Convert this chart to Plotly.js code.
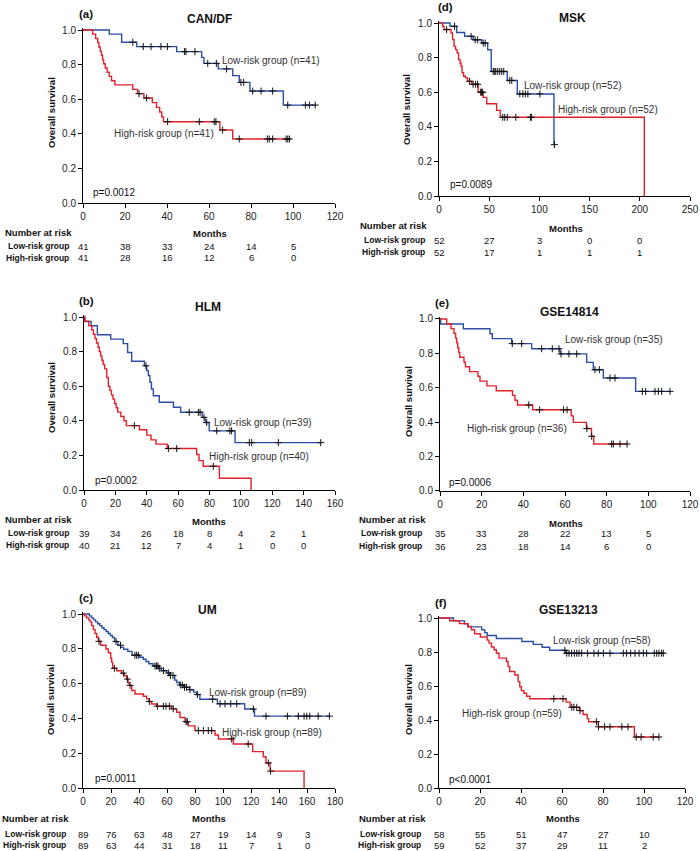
<!DOCTYPE html>
<html><head><meta charset="utf-8">
<script src="https://cdn.plot.ly/plotly-3.0.1.min.js"></script>
<style>html,body{margin:0;padding:0;background:#fff}#chart{width:700px;height:851px}</style>
</head><body><div id="chart"></div>
<script>
// ---------- (a) CAN/DF ----------
const aLowT = [0, 12.5, 18.4, 25.6, 44.6, 56.5, 57.6, 64.4, 71.3, 74.4, 79.5, 95.4];
const aLowS = [1, 0.976, 0.929, 0.904, 0.875, 0.842, 0.807, 0.775, 0.736, 0.697, 0.647, 0.566];
const aLowEnd = 110.6;
const aLowCens = [23.7, 28.7, 32.4, 37.1, 40.2, 48.3, 49.0, 53.3, 59.4, 63.5, 68.4, 75.2, 76.5, 80.8, 84.8, 90.3, 97.5, 105.9, 107.8, 110.6];
const aHighT = [0, 4.6, 6.0, 7.0, 7.6, 8.2, 8.8, 9.3, 9.8, 10.6, 11.5, 12.5, 13.6, 15.2, 23.7, 26.0, 29.0, 33.0, 35.0, 36.5, 37.5, 38.3, 65.2, 71.3];
const aHighS = [1, 0.976, 0.951, 0.927, 0.902, 0.878, 0.854, 0.829, 0.805, 0.780, 0.756, 0.732, 0.707, 0.683, 0.657, 0.632, 0.607, 0.580, 0.553, 0.526, 0.498, 0.470, 0.422, 0.370];
const aHighEnd = 98.3;
const aHighCens = [26.7, 30.3, 40.3, 55.4, 62.5, 63.3, 66.5, 74.4, 87.8, 88.7, 90.3, 96.7, 97.5, 98.3];
const aRiskT = [0, 20, 40, 60, 80, 100];
const aRiskLow = [41, 38, 33, 24, 14, 5];
const aRiskHigh = [41, 28, 16, 12, 6, 0];

// ---------- (d) MSK ----------
const dLowT = [0, 11, 17.6, 25.5, 34, 42.5, 48.5, 52, 68, 78, 114.5];
const dLowS = [1, 0.981, 0.945, 0.923, 0.903, 0.884, 0.845, 0.72, 0.668, 0.59, 0.297];
const dLowEnd = 115;
const dLowCens = [15.5, 32, 36, 38.5, 44, 46, 54, 55, 56.5, 58.5, 60.5, 62.5, 64.5, 70.5, 72.5, 80.5, 83.5, 86, 88.5, 100.5, 115];
const dHighT = [0, 3.5, 5, 12, 13.5, 15, 16.5, 18, 19.5, 21, 22, 23, 24.5, 26.5, 28.5, 32.5, 39, 44, 47.5, 57.4, 61, 204.5];
const dHighS = [1, 0.981, 0.962, 0.942, 0.904, 0.865, 0.846, 0.827, 0.788, 0.769, 0.75, 0.712, 0.692, 0.683, 0.663, 0.646, 0.60, 0.57, 0.533, 0.495, 0.455, 0];
const dHighEnd = 204.5;
const dHighCens = [7.6, 30.5, 34, 36.5, 38.5, 41.5, 42.5, 43.5, 63.5, 65.5, 68, 76.5, 91, 92];
const dRiskT = [0, 50, 100, 150, 200];
const dRiskLow = [52, 27, 3, 0, 0];
const dRiskHigh = [52, 17, 1, 1, 1];

// ---------- (b) HLM ----------
const bLowT = [0, 0.5, 4.5, 8.5, 17, 25, 27.8, 30.4, 38.5, 40, 41, 42, 43, 44.2, 48, 57, 61.6, 75.3, 77.2, 79.8, 96.3];
const bLowS = [1, 0.974, 0.949, 0.897, 0.872, 0.846, 0.795, 0.744, 0.718, 0.69, 0.662, 0.623, 0.584, 0.545, 0.507, 0.478, 0.449, 0.42, 0.39, 0.342, 0.274];
const bLowEnd = 150.9;
const bLowCens = [39.5, 67.1, 72.9, 74, 76.5, 78.2, 84.6, 93, 94.1, 105.4, 106.9, 123.9, 150.9];
const bHighT = [0, 0.5, 3, 5, 6, 7, 8, 9, 9.8, 10.6, 11.4, 12.2, 13.2, 14.5, 15.5, 16.5, 17.5, 18.5, 19.5, 20.5, 21.5, 23.5, 25.5, 27, 28.5, 35.3, 40, 42.7, 45.9, 53, 71.8, 73.3, 76, 86.3, 106.5];
const bHighS = [1, 0.975, 0.95, 0.925, 0.90, 0.875, 0.85, 0.825, 0.80, 0.775, 0.75, 0.725, 0.70, 0.65, 0.60, 0.575, 0.55, 0.525, 0.50, 0.475, 0.45, 0.425, 0.40, 0.372, 0.372, 0.348, 0.317, 0.29, 0.265, 0.24, 0.205, 0.17, 0.137, 0.068, 0];
const bHighEnd = 106.5;
const bHighCens = [32.1, 53.8, 59.1, 82.4];
const bRiskT = [0, 20, 40, 60, 80, 100, 120, 140];
const bRiskLow = [39, 34, 26, 18, 8, 4, 2, 1];
const bRiskHigh = [40, 21, 12, 7, 4, 1, 0, 0];

// ---------- (e) GSE14814 ----------
const eLowT = [0, 0.3, 11.2, 24, 25.1, 34.4, 44, 57.6, 70.4, 73.6, 78.4, 93.9];
const eLowS = [1, 0.971, 0.943, 0.914, 0.886, 0.857, 0.827, 0.797, 0.748, 0.705, 0.657, 0.579];
const eLowEnd = 110.4;
const eLowCens = [34.7, 39.2, 48.8, 53.9, 57.1, 58.1, 61.9, 65.6, 74.4, 76.5, 81.6, 84, 97.1, 98.7, 103.2, 104.8, 106.4, 110.4];
const eHighT = [0, 3.2, 5.3, 6.7, 7.5, 8.0, 8.5, 9.0, 9.5, 11.5, 12.2, 14.2, 18.2, 19.2, 22.5, 27, 34.8, 36, 37.2, 44.5, 63, 64, 70.3, 72.7, 73.8];
const eHighS = [1, 0.972, 0.944, 0.917, 0.889, 0.861, 0.833, 0.806, 0.778, 0.75, 0.722, 0.694, 0.667, 0.639, 0.611, 0.583, 0.556, 0.528, 0.50, 0.472, 0.437, 0.399, 0.363, 0.318, 0.273];
const eHighEnd = 89.8;
const eHighCens = [42.6, 47.8, 59.3, 61, 70.5, 72.8, 82.4, 83.2, 86.4, 89.8];
const eRiskT = [0, 20, 40, 60, 80, 100];
const eRiskLow = [35, 33, 28, 22, 13, 5];
const eRiskHigh = [36, 23, 18, 14, 6, 0];

// ---------- (c) UM ----------
const cLowT = [0, 4.5, 6, 7.5, 9, 10.5, 12, 13.5, 15, 16.5, 18, 19.5, 21, 22.5, 25, 27, 29, 32, 35, 40.5, 43, 45, 47, 50, 54, 56, 60, 62, 65.5, 67, 69, 72, 76, 79, 81, 83.5, 96, 115.5, 122.5];
const cLowS = [1, 0.989, 0.978, 0.966, 0.955, 0.944, 0.933, 0.921, 0.91, 0.899, 0.888, 0.876, 0.865, 0.842, 0.82, 0.808, 0.797, 0.785, 0.763, 0.751, 0.74, 0.727, 0.714, 0.701, 0.688, 0.674, 0.661, 0.647, 0.62, 0.606, 0.592, 0.579, 0.565, 0.551, 0.537, 0.51, 0.484, 0.454, 0.413];
const cLowEnd = 176;
const cLowCens = [23.6, 26.8, 37.1, 38.3, 39.5, 51.4, 52.5, 53.5, 54.5, 57.5, 61.2, 62.5, 64.3, 69.5, 71, 72.5, 74, 76.4, 81.7, 92.6, 97.9, 101.4, 105.5, 109.8, 121.7, 130.7, 146, 153.8, 157.9, 159.8, 162, 168, 176];
const cHighT = [0, 1, 2.6, 4, 5, 6.2, 7.4, 8.6, 9.8, 11, 12.6, 16.4, 18.1, 19.8, 20.5, 21.2, 24, 27.6, 29.5, 31.2, 32.2, 33.1, 34.8, 37.1, 43.1, 45.5, 47.1, 49, 52.6, 63.3, 66.9, 69.3, 72.9, 75.2, 80, 94.3, 96.7, 107.4, 121.2, 128.8, 130.7, 133.6, 157.9];
const cHighS = [1, 0.989, 0.978, 0.966, 0.955, 0.933, 0.91, 0.888, 0.866, 0.843, 0.82, 0.799, 0.777, 0.744, 0.722, 0.688, 0.674, 0.66, 0.645, 0.626, 0.605, 0.59, 0.56, 0.54, 0.527, 0.512, 0.497, 0.483, 0.47, 0.455, 0.435, 0.405, 0.381, 0.357, 0.33, 0.305, 0.282, 0.253, 0.209, 0.18, 0.144, 0.097, 0];
const cHighEnd = 157.9;
const cHighCens = [11.4, 22.4, 28.8, 31.7, 33.6, 47.4, 53.1, 57.4, 59.3, 61.7, 64.5, 73.6, 74.5, 82.4, 86, 89.5, 91.9, 106.2, 118, 132.4, 134];
const cRiskT = [0, 20, 40, 60, 80, 100, 120, 140, 160];
const cRiskLow = [89, 76, 63, 48, 27, 19, 14, 9, 3];
const cRiskHigh = [89, 63, 44, 31, 18, 11, 7, 1, 0];

// ---------- (f) GSE13213 ----------
const fLowT = [0, 7, 12.4, 14, 20.8, 22.3, 23.5, 28, 40.4, 46, 50.3, 54, 61.7];
const fLowS = [1, 0.983, 0.966, 0.948, 0.931, 0.914, 0.897, 0.879, 0.862, 0.845, 0.828, 0.81, 0.793];
const fLowEnd = 109.4;
const fLowCens = [61.4, 62.3, 63.4, 64.7, 66, 67.2, 68.3, 69.6, 72.5, 75.6, 77.7, 80.2, 83.4, 89.9, 91.5, 93.5, 95.6, 97.6, 99.7, 101.3, 105, 106.2, 107.3, 108.6, 109.4];
const fHighT = [0, 5.2, 10, 14.2, 15.8, 17.4, 20.2, 23.5, 24.4, 25.6, 26.9, 28, 29.3, 32.9, 33.7, 34.5, 37, 38.6, 39.4, 40.2, 41.4, 42.7, 44.3, 62, 64, 68.5, 70.3, 72.3, 73, 77.7, 95.3];
const fHighS = [1, 0.984, 0.967, 0.95, 0.931, 0.907, 0.888, 0.87, 0.852, 0.829, 0.813, 0.793, 0.764, 0.744, 0.715, 0.685, 0.665, 0.626, 0.596, 0.573, 0.557, 0.54, 0.525, 0.505, 0.475, 0.455, 0.432, 0.408, 0.39, 0.36, 0.30];
const fHighEnd = 107.3;
const fHighCens = [56, 60.5, 64.8, 65.8, 67.2, 68.8, 76.8, 77.8, 80.8, 83.4, 89.2, 92.2, 96.2, 98.6, 104.5, 107.3];
const fRiskT = [0, 20, 40, 60, 80, 100];
const fRiskLow = [58, 55, 51, 47, 27, 10];
const fRiskHigh = [59, 52, 37, 29, 11, 2];

// ---------- layout / drawing ----------
const W = 700, H = 851;
const BLUE = '#2c4ea6', RED = '#e2222b';
const FONT = 'Liberation Sans, Arial, sans-serif';

const panels = [
  {sfx:'', letter:'(a)', title:'CAN/DF', x0:83, x1:335, yTop:30, yBot:203, xmax:120, dtick:20,
   low:[aLowT,aLowS,aLowEnd,aLowCens], high:[aHighT,aHighS,aHighEnd,aHighCens],
   risk:[aRiskT,aRiskLow,aRiskHigh], nLow:41, nHigh:41, p:'p=0.0012',
   letterPos:[77,14], titlePos:[209,19], ylabPos:[51,113], lowPos:[220,61], highPos:[112,134], pPos:[91,193],
   monthsPos:[210,234], narPos:[3,232], rowLow:246, rowHigh:258, rowRight:71},
  {sfx:'2', letter:'(d)', title:'MSK', x0:439, x1:690, yTop:23, yBot:196, xmax:250, dtick:50,
   low:[dLowT,dLowS,dLowEnd,dLowCens], high:[dHighT,dHighS,dHighEnd,dHighCens],
   risk:[dRiskT,dRiskLow,dRiskHigh], nLow:52, nHigh:52, p:'p=0.0089',
   letterPos:[436,7], titlePos:[572,18], ylabPos:[407,110], lowPos:[522,85], highPos:[556,110], pPos:[448,185],
   monthsPos:[566,228], narPos:[358,226], rowLow:240, rowHigh:252, rowRight:427},
  {sfx:'3', letter:'(b)', title:'HLM', x0:84, x1:335, yTop:317, yBot:490, xmax:160, dtick:20,
   low:[bLowT,bLowS,bLowEnd,bLowCens], high:[bHighT,bHighS,bHighEnd,bHighCens],
   risk:[bRiskT,bRiskLow,bRiskHigh], nLow:39, nHigh:40, p:'p=0.0002',
   letterPos:[77,301], titlePos:[208,307], ylabPos:[51,398], lowPos:[212,422], highPos:[207,457], pPos:[93,481],
   monthsPos:[209,521], narPos:[3,519], rowLow:533, rowHigh:545, rowRight:71},
  {sfx:'4', letter:'(e)', title:'GSE14814', x0:440, x1:690, yTop:319, yBot:491, xmax:120, dtick:20,
   low:[eLowT,eLowS,eLowEnd,eLowCens], high:[eHighT,eHighS,eHighEnd,eHighCens],
   risk:[eRiskT,eRiskLow,eRiskHigh], nLow:35, nHigh:36, p:'p=0.0006',
   letterPos:[433,303], titlePos:[569,312], ylabPos:[408,402], lowPos:[563,339], highPos:[465,428], pPos:[447,482],
   monthsPos:[566,523], narPos:[357,519], rowLow:533, rowHigh:546, rowRight:424},
  {sfx:'5', letter:'(c)', title:'UM', x0:83, x1:335, yTop:614, yBot:788, xmax:180, dtick:20,
   low:[cLowT,cLowS,cLowEnd,cLowCens], high:[cHighT,cHighS,cHighEnd,cHighCens],
   risk:[cRiskT,cRiskLow,cRiskHigh], nLow:89, nHigh:89, p:'p=0.0011',
   letterPos:[77,598], titlePos:[207,610], ylabPos:[50,700], lowPos:[207,692], highPos:[220,732], pPos:[93,778],
   monthsPos:[209,818], narPos:[0,818], rowLow:834, rowHigh:845, rowRight:68},
  {sfx:'6', letter:'(f)', title:'GSE13213', x0:439, x1:685, yTop:618, yBot:788, xmax:120, dtick:20,
   low:[fLowT,fLowS,fLowEnd,fLowCens], high:[fHighT,fHighS,fHighEnd,fHighCens],
   risk:[fRiskT,fRiskLow,fRiskHigh], nLow:58, nHigh:59, p:'p<0.0001',
   letterPos:[433,603], titlePos:[568,610], ylabPos:[408,700], lowPos:[551,640], highPos:[460,713], pPos:[447,779],
   monthsPos:[563,818], narPos:[357,818], rowLow:834, rowHigh:845, rowRight:423}
];

function stepY(T, S, t) { let v = S[0]; for (let i = 0; i < T.length; i++) { if (T[i] <= t) v = S[i]; } return v; }

const traces = [];
const annotations = [];
const layout = {
  width: W, height: H, margin: {l:0, r:0, t:0, b:0},
  paper_bgcolor: '#fff', plot_bgcolor: '#fff', showlegend: false,
  font: {family: FONT, size: 10, color: '#111'}
};

function pa(text, px, py, font, xanchor, extra) {
  return Object.assign({text, x: px / W, y: 1 - py / H, xref: 'paper', yref: 'paper', showarrow: false,
    xanchor: xanchor || 'left', yanchor: 'middle', font: Object.assign({family: FONT, color: '#111'}, font)}, extra || {});
}

const YEXT = 1.012;
panels.forEach(P => {
  const xa = 'x' + P.sfx, ya = 'y' + P.sfx;
  const topPx = P.yBot - (P.yBot - P.yTop) * YEXT;
  layout['xaxis' + P.sfx] = {
    domain: [P.x0 / W, P.x1 / W], range: [0, P.xmax], tick0: 0, dtick: P.dtick, anchor: ya,
    showline: true, linecolor: '#000', linewidth: 1, ticks: 'outside', ticklen: 4, tickcolor: '#000', tickwidth: 1,
    showgrid: false, zeroline: false, fixedrange: true, tickfont: {family: FONT, size: 10, color: '#222'}
  };
  layout['yaxis' + P.sfx] = {
    domain: [1 - P.yBot / H, 1 - topPx / H], range: [0, YEXT], tickvals: [0, 0.2, 0.4, 0.6, 0.8, 1.0],
    ticktext: ['0.0', '0.2', '0.4', '0.6', '0.8', '1.0'], anchor: xa,
    showline: true, linecolor: '#000', linewidth: 1, ticks: 'outside', ticklen: 4, tickcolor: '#000', tickwidth: 1,
    showgrid: false, zeroline: false, fixedrange: true, tickfont: {family: FONT, size: 10, color: '#222'}
  };
  [[P.low, BLUE], [P.high, RED]].forEach(([g, col]) => {
    const [T, S, end, C] = g;
    traces.push({type: 'scatter', mode: 'lines', x: T.concat([end]), y: S.concat([S[S.length - 1]]),
      line: {shape: 'hv', color: col, width: 1.4}, xaxis: xa, yaxis: ya, hoverinfo: 'skip'});
    traces.push({type: 'scatter', mode: 'markers', x: C, y: C.map(c => stepY(T, S, c)),
      marker: {symbol: 'cross-thin', size: 5, color: '#111', line: {color: '#111', width: 1}},
      xaxis: xa, yaxis: ya, hoverinfo: 'skip', cliponaxis: false});
  });
  annotations.push(pa('<b>' + P.letter + '</b>', P.letterPos[0], P.letterPos[1], {size: 11.5}));
  annotations.push(pa('<b>' + P.title + '</b>', P.titlePos[0], P.titlePos[1], {size: 12}, 'center'));
  annotations.push(pa('<b>Overall survival</b>', P.ylabPos[0], P.ylabPos[1], {size: 9.5}, 'center', {textangle: -90}));
  annotations.push(pa('Low-risk group (n=' + P.nLow + ')', P.lowPos[0], P.lowPos[1], {size: 10, color: '#333'}));
  annotations.push(pa('High-risk group (n=' + P.nHigh + ')', P.highPos[0], P.highPos[1], {size: 10, color: '#333'}));
  annotations.push(pa(P.p, P.pPos[0], P.pPos[1], {size: 10}));
  annotations.push(pa('<b>Months</b>', P.monthsPos[0], P.monthsPos[1], {size: 9.5}, 'center'));
  annotations.push(pa('<b>Number at risk</b>', P.narPos[0], P.narPos[1], {size: 9.5}));
  annotations.push(pa('<b>Low-risk group</b>', P.rowRight, P.rowLow, {size: 8.5}, 'right'));
  annotations.push(pa('<b>High-risk group</b>', P.rowRight, P.rowHigh, {size: 8.5}, 'right'));
  const [RT, RL, RH] = P.risk;
  RT.forEach((t, i) => {
    annotations.push({text: String(RL[i]), x: t, xref: xa, y: 1 - P.rowLow / H, yref: 'paper', showarrow: false,
      xanchor: 'center', yanchor: 'middle', font: {family: FONT, size: 9.5, color: '#111'}});
    annotations.push({text: String(RH[i]), x: t, xref: xa, y: 1 - P.rowHigh / H, yref: 'paper', showarrow: false,
      xanchor: 'center', yanchor: 'middle', font: {family: FONT, size: 9.5, color: '#111'}});
  });
});
layout.annotations = annotations;

Plotly.newPlot('chart', traces, layout, {staticPlot: true, displayModeBar: false});
</script></body></html>
